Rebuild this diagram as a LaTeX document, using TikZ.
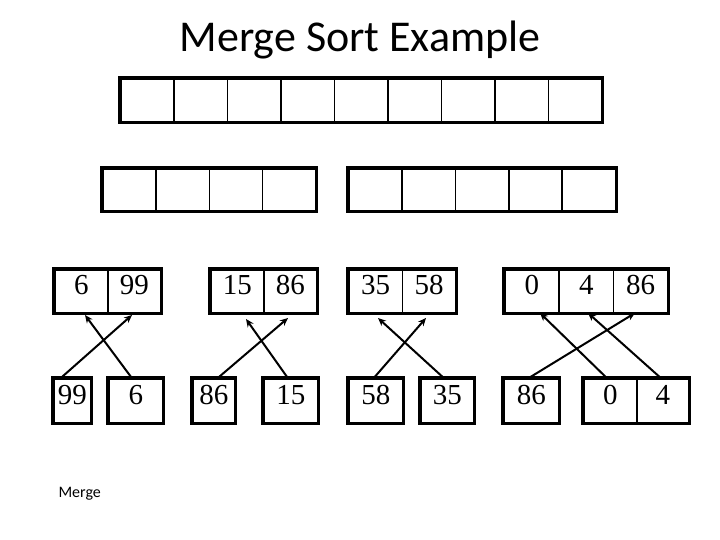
\documentclass[tikz,border=0pt]{standalone}
\usepackage{fontspec}
\setmainfont{Liberation Serif}
\newfontfamily\titlefont{Carlito}
\usetikzlibrary{arrows.meta}
\tikzset{
  cell/.style={draw, line width=1.6pt, inner sep=0pt, anchor=north west, font=\fontsize{29}{29}\selectfont, text height=0.68em, text depth=0pt},
  frame/.style={draw, line width=3.2pt, line join=miter},
  mergearrow/.style={line width=2pt, -{Stealth[length=8pt,width=7pt]}},
}
\newcommand{\cellrow}[6]{% prefix, x0, y0, width, height, list of labels
  \foreach \lab [count=\i from 0] in {#6} {
    \node[cell, minimum width=#4pt, minimum height=#5pt] (#1\i) at ({#2+\i*#4}, #3) {\lab};
  }
}
\begin{document}
\begin{tikzpicture}[x=1pt, y=-1pt]
\useasboundingbox (0,0) rectangle (720,540);
\node[font=\titlefont\fontsize{44}{44}\selectfont, anchor=base] (title) at (360,52) {Merge Sort Example};

% top array
\cellrow{t}{120}{78}{53.44}{43}{{},{},{},{},{},{},{},{},{}}
\draw[frame] (t0.north west) rectangle (t8.south east);

% second row
\cellrow{l}{102}{168}{53.25}{42}{{},{},{},{}}
\draw[frame] (l0.north west) rectangle (l3.south east);
\cellrow{r}{348}{168}{53.3}{42}{{},{},{},{},{}}
\draw[frame] (r0.north west) rectangle (r4.south east);

% third row
\cellrow{a}{54}{269}{53}{43}{6,99}
\draw[frame] (a0.north west) rectangle (a1.south east);
\cellrow{b}{210}{269}{53}{43}{15,86}
\draw[frame] (b0.north west) rectangle (b1.south east);
\cellrow{c}{348}{269}{53.5}{43}{35,58}
\draw[frame] (c0.north west) rectangle (c1.south east);
\cellrow{d}{504}{269}{54.3}{43}{0,4,86}
\draw[frame] (d0.north west) rectangle (d2.south east);

% bottom row
\node[cell, minimum width=37pt, minimum height=44pt] (p99) at (53,378) {99};
\draw[frame] (p99.north west) rectangle (p99.south east);
\node[cell, minimum width=54pt, minimum height=44pt] (p6) at (108,378) {6};
\draw[frame] (p6.north west) rectangle (p6.south east);
\node[cell, minimum width=42pt, minimum height=44pt] (q86) at (192,378) {86};
\draw[frame] (q86.north west) rectangle (q86.south east);
\node[cell, minimum width=54pt, minimum height=44pt] (q15) at (263,378) {15};
\draw[frame] (q15.north west) rectangle (q15.south east);
\node[cell, minimum width=54pt, minimum height=44pt] (s58) at (348,378) {58};
\draw[frame] (s58.north west) rectangle (s58.south east);
\node[cell, minimum width=53pt, minimum height=44pt] (s35) at (420,378) {35};
\draw[frame] (s35.north west) rectangle (s35.south east);
\node[cell, minimum width=55pt, minimum height=44pt] (u86) at (503,378) {86};
\draw[frame] (u86.north west) rectangle (u86.south east);
\node[cell, minimum width=53pt, minimum height=44pt] (u0) at (583,378) {0};
\node[cell, minimum width=52pt, minimum height=44pt] (u4) at (636,378) {4};
\draw[frame] (u0.north west) rectangle (u4.south east);

% arrow targets
\coordinate (ta1) at (132,315);
\coordinate (ta0) at (85,315);
\coordinate (tb1) at (288,318);
\coordinate (tb0) at (246,319);
\coordinate (tc1) at (426,318);
\coordinate (tc0) at (378,318);
\coordinate (td2) at (635,313);
\coordinate (td0) at (540,313);
\coordinate (td1) at (588,313);

% arrows
\draw[mergearrow] ([xshift=-11.5pt]p99.north) -- (ta1);
\draw[mergearrow] ([xshift=-4pt]p6.north) -- (ta0);
\draw[mergearrow] ([xshift=4pt]q86.north) -- (tb1);
\draw[mergearrow] ([xshift=-3pt]q15.north) -- (tb0);
\draw[mergearrow] ([xshift=-2pt]s58.north) -- (tc1);
\draw[mergearrow] ([xshift=-3.5pt]s35.north) -- (tc0);
\draw[mergearrow] ([xshift=-2.5pt]u86.north) -- (td2);
\draw[mergearrow] ([xshift=-3.5pt]u0.north) -- (td0);
\draw[mergearrow] ([xshift=-2pt]u4.north) -- (td1);

\node[font=\titlefont\fontsize{16}{16}\selectfont, anchor=base west] (merge) at (55,497) {Merge};
\end{tikzpicture}
\end{document}
